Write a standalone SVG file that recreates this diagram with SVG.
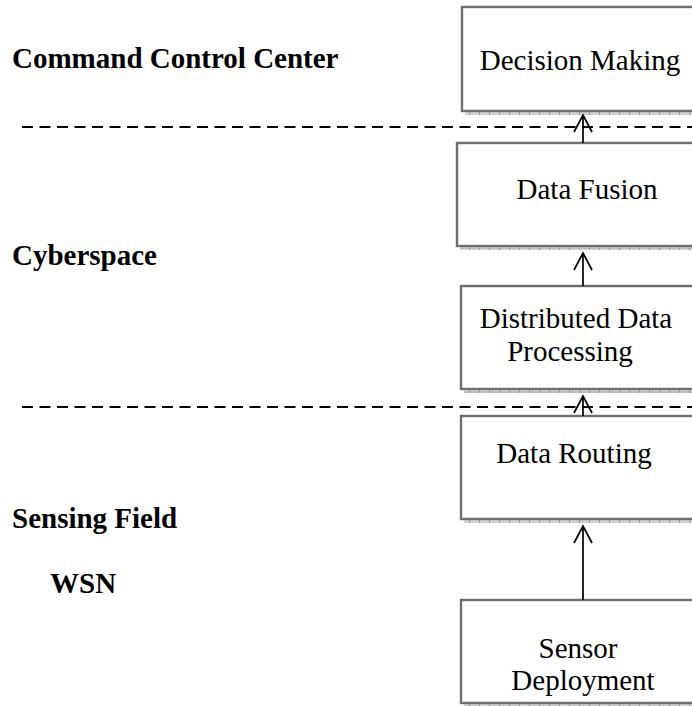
<svg xmlns="http://www.w3.org/2000/svg" width="692" height="706" viewBox="0 0 692 706">
  <style>
    .box { fill: #ffffff; stroke: #6e6e6e; stroke-width: 2.4; }
    .shadow { fill: url(#hatch); }
    .label { font-family: "Liberation Serif", "Times New Roman", serif; font-size: 29px; fill: #000; }
    .layer { font-family: "Liberation Serif", "Times New Roman", serif; font-size: 29px; font-weight: bold; fill: #000; }
    .divider { stroke: #000; stroke-width: 2.2; stroke-dasharray: 11 6.5; fill: none; }
    .link { stroke: #000; stroke-width: 1.7; fill: none; }
  </style>
  <defs>
    <pattern id="hatch" x="0" y="0" width="10" height="4" patternUnits="userSpaceOnUse">
      <rect width="10" height="4" fill="#bdbdbd"/>
      <rect y="1" width="10" height="1.5" fill="#d6d6d6"/>
      <rect x="9" width="1" height="4" fill="#9a9a9a"/>
    </pattern>
  </defs>

  <rect width="692" height="706" fill="#ffffff"/>

  <!-- layer names -->
  <g id="layer-labels">
    <text class="layer" x="12" y="68">Command Control Center</text>
    <text class="layer" x="12" y="265">Cyberspace</text>
    <text class="layer" x="12" y="528">Sensing Field</text>
    <text class="layer" x="50" y="593">WSN</text>
  </g>

  <!-- layer boundaries -->
  <g id="dividers">
    <line class="divider" x1="22" y1="127" x2="692" y2="127"/>
    <line class="divider" x1="22" y1="407" x2="692" y2="407"/>
  </g>

  <g id="decision-making">
    <rect class="box" x="462" y="7" width="240" height="104"/>
    <rect class="shadow" x="465" y="112" width="240" height="3"/>
    <text class="label" x="580" y="70" text-anchor="middle">Decision Making</text>
  </g>

  <g id="data-fusion">
    <rect class="box" x="457" y="143" width="245" height="103"/>
    <rect class="shadow" x="460" y="247" width="240" height="3"/>
    <text class="label" x="587" y="199" text-anchor="middle">Data Fusion</text>
  </g>

  <g id="distributed-processing">
    <rect class="box" x="461" y="286" width="241" height="103"/>
    <rect class="shadow" x="464" y="390" width="240" height="3"/>
    <text class="label" x="576" y="328" text-anchor="middle">Distributed Data</text>
    <text class="label" x="570" y="361" text-anchor="middle">Processing</text>
  </g>

  <g id="data-routing">
    <rect class="box" x="461" y="416" width="241" height="103"/>
    <rect class="shadow" x="464" y="520" width="240" height="3"/>
    <text class="label" x="574" y="463" text-anchor="middle">Data Routing</text>
  </g>

  <g id="sensor-deployment">
    <rect class="box" x="461" y="600" width="241" height="103"/>
    <rect class="shadow" x="464" y="704" width="240" height="3"/>
    <text class="label" x="578" y="658" text-anchor="middle">Sensor</text>
    <text class="label" x="583" y="690" text-anchor="middle">Deployment</text>
  </g>

  <!-- upward flow between stages -->
  <g id="connectors">
    <path class="link" d="M583 143 V115 M574 132 L583 115 L592 132"/>
    <path class="link" d="M583 286 V253 M574 270 L583 253 L592 270"/>
    <path class="link" d="M583 416 V396 M574 413 L583 396 L592 413"/>
    <path class="link" d="M583 600 V526 M574 543 L583 526 L592 543"/>
  </g>
</svg>
